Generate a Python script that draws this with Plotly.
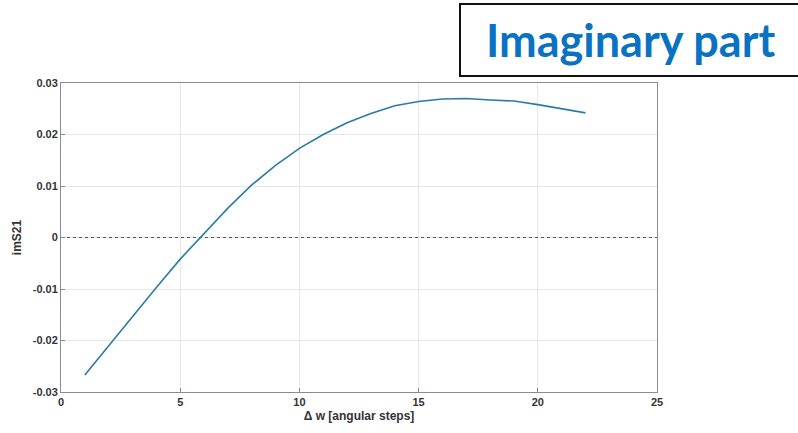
import plotly.graph_objects as go

x_vals = list(range(1, 23))
im_s21 = [-0.0267, -0.0210, -0.0153, -0.0097, -0.0042, 0.0008, 0.0057, 0.0102,
          0.0140, 0.0173, 0.0200, 0.0223, 0.0241, 0.0256, 0.0264, 0.0269,
          0.0270, 0.0267, 0.0265, 0.0258, 0.0250, 0.0242]
x_ticks = [0, 5, 10, 15, 20, 25]
y_ticks = [-0.03, -0.02, -0.01, 0, 0.01, 0.02, 0.03]
y_tick_text = ["-0.03", "-0.02", "-0.01", "0", "0.01", "0.02", "0.03"]

fig = go.Figure()
fig.add_trace(go.Scatter(x=[0, 25], y=[0, 0], mode="lines",
                         line=dict(color="#555555", width=1, dash="dot"),
                         hoverinfo="skip", showlegend=False))
fig.add_trace(go.Scatter(x=x_vals, y=im_s21, mode="lines",
                         line=dict(color="#2a7ca6", width=1.6), showlegend=False))

axis_common = dict(showgrid=True, gridcolor="#e6e6e6", gridwidth=1,
                   showline=True, linecolor="#8c8c8c", linewidth=1, mirror=True,
                   zeroline=False, ticks="inside", ticklen=4, tickcolor="#8c8c8c",
                   tickfont=dict(family="Liberation Sans, Arial", size=11, color="#333333",
                                 weight="bold"))

fig.update_xaxes(range=[0, 25], tickvals=x_ticks,
                 title=dict(text="Δ w [angular steps]", standoff=4,
                            font=dict(family="Liberation Sans, Arial", size=12, color="#333333",
                                      weight="bold")),
                 **axis_common)
fig.update_yaxes(range=[-0.03, 0.03], tickvals=y_ticks, ticktext=y_tick_text,
                 title=dict(text="imS21", standoff=8,
                            font=dict(family="Liberation Sans, Arial", size=12, color="#333333",
                                      weight="bold")),
                 **axis_common)

fig.update_layout(
    width=798, height=433,
    margin=dict(l=61, r=141, t=83, b=41),
    plot_bgcolor="white", paper_bgcolor="white",
    font=dict(family="Liberation Sans, Arial"),
)

fig.add_shape(type="rect", xref="paper", yref="paper",
              x0=(460 - 61) / 596, x1=(800 - 61) / 596,
              y0=(392 - 76) / 309, y1=(392 - 4) / 309,
              line=dict(color="#111111", width=2), fillcolor="white", layer="above")
fig.add_annotation(text="<b>Imaginary part</b>", xref="paper", yref="paper",
                   x=(630 - 61) / 596, y=(392 - 40) / 309, showarrow=False,
                   xanchor="center", yanchor="middle",
                   font=dict(family="Lato, Open Sans", size=45, color="#0a72c2"))

fig.write_html("out.html")
